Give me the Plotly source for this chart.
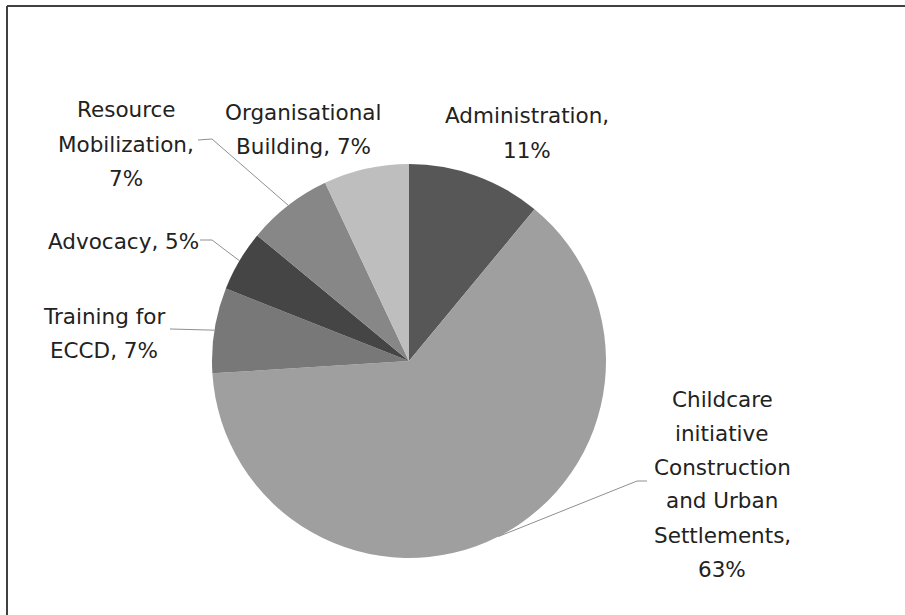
import math
import plotly.graph_objects as go

# ---- data ----
categories = ["Administration",
              "Childcare initiative Construction and Urban Settlements",
              "Training for ECCD", "Advocacy", "Resource Mobilization",
              "Organisational Building"]
values = [11, 63, 7, 5, 7, 7]
colors = ["#575757", "#9f9f9f", "#787878", "#454545", "#878787", "#bebebe"]
label_lines = [
    ["Administration,"],
    ["Childcare", "initiative", "Construction", "and Urban", "Settlements,"],
    ["Training for", "ECCD,"],
    ["Advocacy,"],
    ["Resource", "Mobilization,"],
    ["Organisational", "Building,"],
]

W, H = 905, 615
CX, CY, R = 409, 361, 197

# label layout (pixel centre of first line, line step)
label_pos = [(527, 116), (722, 399), (104, 316), (124, 241), (126, 110), (303, 112)]
LINE_STEP = 34
# leader-line elbows (pixels) for labels that have one
elbows = {1: [(647, 481), (637, 481)], 2: [(170, 329)], 3: [(200, 240), (212, 240)],
          4: [(198, 140), (212, 139)]}

def px(x):
    return x / W

def py(y):
    return 1 - y / H

fig = go.Figure(go.Pie(
    labels=categories, values=values, sort=False, direction="clockwise",
    rotation=0, marker=dict(colors=colors, line=dict(width=0)),
    textinfo="none", hoverinfo="label+percent", showlegend=False,
    domain=dict(x=[px(CX - R), px(CX + R)], y=[py(CY + R), py(CY - R)]),
))

annotations = []
shapes = []
total = sum(values)
cum = 0
for i, v in enumerate(values):
    pct = round(100 * v / total)
    lines = list(label_lines[i])
    # append the percentage to the final line or as a new line
    if categories[i] in ("Organisational Building", "Advocacy"):
        lines[-1] = lines[-1] + " %d%%" % pct
    elif categories[i] == "Training for ECCD":
        lines[-1] = lines[-1] + " %d%%" % pct
    else:
        lines.append("%d%%" % pct)
    lx, ly = label_pos[i]
    for k, t in enumerate(lines):
        annotations.append(dict(
            x=px(lx), y=py(ly + k * LINE_STEP), xref="paper", yref="paper",
            text=t, showarrow=False, xanchor="center", yanchor="middle",
            font=dict(family="DejaVu Sans", size=21.5, color="#222222")))
    mid = (cum + v / 2) / total * 2 * math.pi
    cum += v
    if i in elbows:
        ax = CX + R * math.sin(mid)
        ay = CY - R * math.cos(mid)
        pts = elbows[i] + [(ax, ay)]
        path = "M %f,%f" % (px(pts[0][0]), py(pts[0][1]))
        for p in pts[1:]:
            path += " L %f,%f" % (px(p[0]), py(p[1]))
        shapes.append(dict(type="path", path=path, xref="paper", yref="paper",
                           line=dict(color="#8f8f8f", width=1)))

# chart frame (left and top edges visible)
shapes.append(dict(type="line", xref="paper", yref="paper",
                   x0=px(7), y0=py(6), x1=px(7), y1=0,
                   line=dict(color="#404040", width=2)))
shapes.append(dict(type="line", xref="paper", yref="paper",
                   x0=px(7), y0=py(6), x1=1, y1=py(6),
                   line=dict(color="#404040", width=2)))

fig.update_layout(
    width=W, height=H, margin=dict(l=0, r=0, t=0, b=0),
    paper_bgcolor="white", plot_bgcolor="white",
    annotations=annotations, shapes=shapes,
)
fig.write_html("out.html")
